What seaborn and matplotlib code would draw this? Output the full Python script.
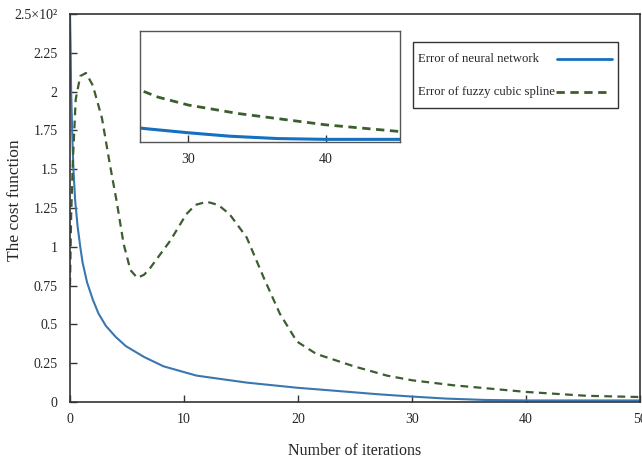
import matplotlib
matplotlib.use("Agg")
import matplotlib.pyplot as plt
from matplotlib.lines import Line2D
from matplotlib.patches import Rectangle
import seaborn as sns

# ── Data ──────────────────────────────────────────────────────────────────────
NN_ITER = [0, 0.05, 0.1, 0.2, 0.3, 0.45, 0.67, 0.9, 1.1, 1.5, 2.0, 2.5, 3.15, 4.0,
           4.9, 6.5, 8.2, 11.1, 15.5, 19.9, 22.8, 27, 30, 33, 36.5, 40, 45, 50]
NN_COST = [2.5, 2.3, 2.0, 1.72, 1.5, 1.3, 1.13, 1.0, 0.90, 0.77, 0.66, 0.57, 0.49, 0.42,
           0.36, 0.29, 0.23, 0.17, 0.125, 0.092, 0.075, 0.05, 0.035, 0.022, 0.013, 0.01, 0.01, 0.01]

FCS_ITER = [0, 0.1, 0.25, 0.5, 0.9, 1.4, 2.0, 2.8, 3.5, 4.1, 4.7, 5.3, 5.9, 6.5, 7.0,
            8.0, 8.8, 10.2, 11.0, 12.0, 13.0, 14.0, 15.5, 17.0, 18.4, 19.9, 21.6, 24.9,
            27.8, 30, 33.6, 40, 45.3, 50]
FCS_COST = [0.75, 1.2, 1.55, 1.95, 2.1, 2.12, 2.04, 1.83, 1.53, 1.29, 1.02, 0.85, 0.80,
            0.82, 0.86, 0.96, 1.04, 1.21, 1.27, 1.29, 1.27, 1.21, 1.06, 0.80, 0.57, 0.39,
            0.31, 0.23, 0.17, 0.14, 0.108, 0.065, 0.04, 0.032]

X_TICKS = [0, 10, 20, 30, 40, 50]
Y_TICKS = [0, 0.25, 0.5, 0.75, 1, 1.25, 1.5, 1.75, 2, 2.25, 2.5]
Y_LABELS = ["0", "0.25", "0.5", "0.75", "1", "1.25", "1.5", "1.75", "2", "2.25", "2.5×10²"]
INSET_TICKS = [30, 40]

LABELS = ["Error of neural network", "Error of fuzzy cubic spline"]

NN_COLOR = "#3a76b0"
NN_INSET = "#1670c0"
FCS_COLOR = "#3b5e2f"
SPINE = "#333333"

W, H = 642, 465


def fx(px):
    return px / W


def fy(py):
    return 1 - py / H


# ── Style ─────────────────────────────────────────────────────────────────────
sns.set_style("ticks")
plt.rcParams["font.family"] = ["Liberation Serif", "DejaVu Serif"]

fig = plt.figure(figsize=(W / 100, H / 100), dpi=100)
ax = fig.add_axes([fx(70), fy(402), fx(640) - fx(70), fy(14) - fy(402)])

sns.lineplot(x=NN_ITER, y=NN_COST, ax=ax, color=NN_COLOR, lw=1.5)
sns.lineplot(x=FCS_ITER, y=FCS_COST, ax=ax, color=FCS_COLOR, lw=1.6)
ax.lines[-1].set_dashes([3.5, 2.4])

ax.set_xlim(0, 50)
ax.set_ylim(0, 2.5)
ax.set_xticks(X_TICKS)
ax.set_yticks(Y_TICKS)
ax.set_yticklabels(Y_LABELS)
ax.tick_params(direction="in", length=5, width=1, color=SPINE,
               labelsize=10, top=False, right=False)
ax.tick_params(axis="x", pad=8)
ax.tick_params(axis="y", pad=9)
for s in ax.spines.values():
    s.set_color(SPINE)
    s.set_linewidth(1.2)
ax.set_xlabel("Number of iterations", fontsize=11.5)
ax.xaxis.set_label_coords(0.5, -0.106)
ax.set_ylabel("The cost function", fontsize=12.5)
ax.yaxis.set_label_coords(-0.083, 0.52)

# ── Inset ─────────────────────────────────────────────────────────────────────
axin = fig.add_axes([fx(140), fy(142), fx(400) - fx(140), fy(31) - fy(142)])
sns.lineplot(x=NN_ITER, y=NN_COST, ax=axin, color=NN_INSET, lw=2.2)
sns.lineplot(x=FCS_ITER, y=FCS_COST, ax=axin, color=FCS_COLOR, lw=2.0)
axin.lines[-1].set_dashes([3, 2])
axin.set_xlim(26.5, 45.4)
axin.set_ylim(0, 0.42)
axin.set_xticks(INSET_TICKS)
axin.set_yticks([])
axin.tick_params(direction="in", length=5, width=1, color=SPINE, labelsize=10, pad=8)
for s in axin.spines.values():
    s.set_color("#555555")
    s.set_linewidth(1.0)

# ── Legend (text left, sample line right) ─────────────────────────────────────
fig.add_artist(Rectangle((fx(413), fy(108)), fx(618) - fx(413), fy(42) - fy(108),
                         transform=fig.transFigure, fill=False,
                         edgecolor=SPINE, lw=1.0))
rows = [(58, NN_INSET, None, 557, 612), (91, FCS_COLOR, [3, 2], 556, 610)]
for (yy, col, dash, x0, x1), lab in zip(rows, LABELS):
    fig.text(fx(418), fy(yy + 1), lab, fontsize=9.2, va="center", ha="left")
    ln = Line2D([fx(x0), fx(x1)], [fy(yy + 1), fy(yy + 1)], color=col, lw=2.0,
                transform=fig.transFigure)
    if dash:
        ln.set_dashes(dash)
    fig.add_artist(ln)

fig.savefig("out.png", dpi=100)
